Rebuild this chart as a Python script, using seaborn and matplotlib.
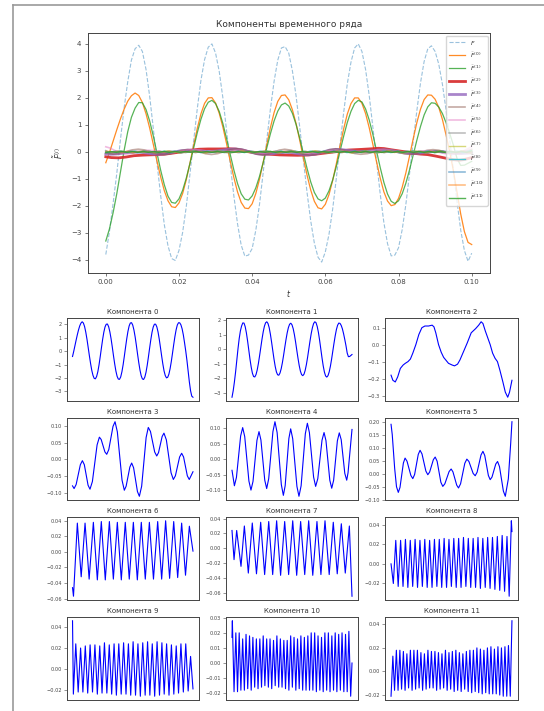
import numpy as np
import pandas as pd
import matplotlib
matplotlib.use('Agg')
import matplotlib.pyplot as plt
import seaborn as sns
from matplotlib.lines import Line2D
from matplotlib.ticker import MaxNLocator

# ---------------------------------------------------------------
# data
# ---------------------------------------------------------------
# sampling grid of the series, step 0.001 s
t_grid = np.linspace(0, 0.1, 101)

F_vals = [-3.80, -2.95, -1.90, -0.80, 0.45, 1.62, 2.60, 3.40, 3.82, 3.95,
          3.72, 3.05, 2.05, 0.85, -0.42, -1.62, -2.70, -3.48, -3.95, -4.02,
          -3.65, -2.98, -2.02, -0.82, 0.40, 1.60, 2.65, 3.42, 3.88, 4.00,
          3.66, 2.98, 2.00, 0.80, -0.45, -1.63, -2.66, -3.45, -3.86, -3.82,
          -3.58, -2.90, -1.95, -0.78, 0.44, 1.60, 2.62, 3.40, 3.85, 3.90,
          3.66, 3.00, 2.08, 0.92, -0.30, -1.50, -2.55, -3.38, -3.90, -4.08,
          -3.70, -3.05, -2.12, -0.98, 0.25, 1.45, 2.52, 3.32, 3.85, 4.00,
          3.72, 3.05, 2.08, 0.90, -0.35, -1.56, -2.62, -3.40, -3.85, -3.82,
          -3.55, -2.88, -1.95, -0.82, 0.38, 1.52, 2.55, 3.35, 3.82, 3.93,
          3.72, 3.25, 2.50, 1.55, 0.45, -0.70, -1.85, -2.90, -3.65, -4.05,
          -3.75]

c0_vals = [-0.40, -0.02, 0.40, 0.82, 1.22, 1.58, 1.88, 2.08, 2.18, 2.09,
           1.83, 1.41, 0.88, 0.27, -0.35, -0.93, -1.44, -1.81, -2.03, -2.06,
           -1.89, -1.54, -1.03, -0.41, 0.24, 0.87, 1.41, 1.80, 2.00, 2.01,
           1.81, 1.43, 0.92, 0.31, -0.34, -0.95, -1.48, -1.87, -2.08, -2.10,
           -1.92, -1.54, -1.02, -0.39, 0.27, 0.91, 1.46, 1.87, 2.09, 2.11,
           1.93, 1.56, 1.05, 0.43, -0.23, -0.86, -1.41, -1.83, -2.07, -2.11,
           -1.94, -1.58, -1.06, -0.44, 0.22, 0.85, 1.40, 1.79, 2.00, 2.00,
           1.80, 1.42, 0.89, 0.27, -0.37, -0.97, -1.48, -1.82, -1.99, -1.95,
           -1.72, -1.31, -0.78, -0.16, 0.48, 1.08, 1.58, 1.94, 2.11, 2.10,
           1.95, 1.65, 1.20, 0.62, 0.00, -0.70, -1.50, -2.30, -2.95, -3.35,
           -3.43]

c1_vals = [-3.30, -2.85, -2.25, -1.55, -0.75, 0.05, 0.75, 1.28, 1.62, 1.83,
           1.82, 1.57, 1.14, 0.58, -0.05, -0.68, -1.22, -1.64, -1.87, -1.90,
           -1.74, -1.42, -0.97, -0.43, 0.14, 0.71, 1.21, 1.60, 1.84, 1.91,
           1.79, 1.50, 1.05, 0.50, -0.09, -0.67, -1.17, -1.55, -1.75, -1.78,
           -1.63, -1.33, -0.91, -0.40, 0.15, 0.68, 1.15, 1.51, 1.74, 1.81,
           1.70, 1.43, 1.02, 0.51, -0.06, -0.61, -1.11, -1.50, -1.74, -1.81,
           -1.71, -1.44, -1.04, -0.54, 0.02, 0.58, 1.09, 1.50, 1.79, 1.91,
           1.85, 1.59, 1.18, 0.64, 0.03, -0.58, -1.13, -1.56, -1.83, -1.91,
           -1.81, -1.55, -1.16, -0.67, -0.12, 0.43, 0.94, 1.37, 1.67, 1.82,
           1.80, 1.66, 1.42, 1.08, 0.68, 0.25, -0.25, -0.50, -0.49, -0.42,
           -0.35]

t_c2 = [0.0, 0.0015, 0.0035, 0.0055, 0.0077, 0.010, 0.0118, 0.014, 0.016, 0.018,
        0.0205, 0.023, 0.0255, 0.028, 0.031, 0.034, 0.0355, 0.037, 0.0393, 0.0415,
        0.0435, 0.0475, 0.0505, 0.0525, 0.055, 0.057, 0.060, 0.063, 0.0663, 0.070,
        0.0725, 0.0745, 0.076, 0.078, 0.080, 0.082, 0.084, 0.086, 0.088, 0.090,
        0.0925, 0.0945, 0.0965, 0.098, 0.1]
v_c2 = [-0.18, -0.21, -0.22, -0.19, -0.14, -0.12, -0.11, -0.10, -0.085, -0.05,
        0.0, 0.06, 0.10, 0.11, 0.11, 0.115, 0.105, 0.07, 0.0, -0.045,
        -0.075, -0.11, -0.12, -0.125, -0.115, -0.09, -0.04, 0.01, 0.07, 0.095,
        0.115, 0.135, 0.125, 0.08, 0.04, 0.0, -0.05, -0.08, -0.10, -0.15,
        -0.22, -0.28, -0.31, -0.28, -0.21]

t_c3 = [0.0, 0.0013, 0.0030, 0.0065, 0.0082, 0.0098, 0.0129, 0.0145, 0.0165, 0.0204,
        0.0223, 0.0238, 0.0269, 0.0284, 0.0301, 0.0336, 0.0353, 0.0372, 0.0411, 0.0430,
        0.0445, 0.0476, 0.0491, 0.0507, 0.0539, 0.0555, 0.0574, 0.0611, 0.0629, 0.0647,
        0.0682, 0.0699, 0.0714, 0.0744, 0.0759, 0.0779, 0.0818, 0.0837, 0.0854, 0.0889,
        0.0906, 0.0922, 0.0953, 0.0969, 0.1]
v_c3 = [-0.079, -0.087, -0.075, -0.016, -0.004, -0.016, -0.077, -0.089, -0.066, 0.043,
        0.066, 0.059, 0.022, 0.015, 0.029, 0.098, 0.112, 0.082, -0.062, -0.092,
        -0.080, -0.023, -0.011, -0.025, -0.096, -0.110, -0.080, 0.065, 0.095, 0.083,
        0.022, 0.010, 0.020, 0.068, 0.078, 0.058, -0.040, -0.060, -0.049, 0.007,
        0.018, 0.007, -0.049, -0.060, -0.037]

t_c4 = [0.0, 0.002, 0.0037, 0.0072, 0.0089, 0.0106, 0.0141, 0.0158, 0.0175, 0.0208,
        0.0225, 0.0241, 0.0273, 0.0289, 0.0306, 0.0341, 0.0358, 0.0376, 0.0411, 0.0428,
        0.0443, 0.0474, 0.0489, 0.0506, 0.0541, 0.0558, 0.0576, 0.0611, 0.0628, 0.0645,
        0.0680, 0.0697, 0.0715, 0.0750, 0.0767, 0.0783, 0.0815, 0.0831, 0.0847, 0.0878,
        0.0894, 0.0910, 0.0940, 0.0956, 0.0967, 0.1]
v_c4 = [-0.036, -0.086, -0.059, 0.075, 0.102, 0.073, -0.071, -0.100, -0.072, 0.061,
        0.089, 0.062, -0.068, -0.095, -0.063, 0.089, 0.121, 0.086, -0.082, -0.117,
        -0.086, 0.067, 0.098, 0.066, -0.088, -0.120, -0.086, 0.082, 0.116, 0.086,
        -0.058, -0.088, -0.063, 0.061, 0.086, 0.060, -0.068, -0.094, -0.068, 0.059,
        0.085, 0.063, -0.046, -0.068, -0.044, 0.096]

t_c5 = [0.0, 0.001, 0.003, 0.0045, 0.006, 0.0074, 0.0102, 0.0116, 0.0132, 0.0164,
        0.018, 0.0195, 0.0225, 0.024, 0.0256, 0.0288, 0.0304, 0.0319, 0.0350, 0.0365,
        0.0381, 0.0412, 0.0428, 0.0445, 0.0480, 0.0497, 0.0512, 0.0543, 0.0558, 0.0575,
        0.0610, 0.0627, 0.0644, 0.0679, 0.0696, 0.0712, 0.0744, 0.076, 0.0775, 0.0805,
        0.082, 0.0835, 0.0866, 0.0881, 0.0897, 0.0929, 0.0945, 0.097, 0.099, 0.1]
v_c5 = [0.190, 0.150, 0.020, -0.050, -0.072, -0.053, 0.041, 0.060, 0.048, -0.007,
        -0.019, -0.003, 0.074, 0.090, 0.076, 0.010, -0.004, 0.006, 0.054, 0.064,
        0.048, -0.033, -0.049, -0.039, 0.008, 0.018, 0.007, -0.044, -0.055, -0.039,
        0.040, 0.056, 0.047, 0.001, -0.008, 0.006, 0.072, 0.086, 0.070, -0.007,
        -0.023, -0.013, 0.037, 0.047, 0.027, -0.067, -0.087, -0.020, 0.120, 0.200]

t_c6 = [0.0, 0.0008, 0.0040, 0.0072, 0.0104, 0.0138, 0.0173, 0.0206, 0.0239, 0.0272,
        0.0306, 0.0339, 0.0372, 0.0405, 0.0438, 0.0471, 0.0505, 0.0538, 0.0571, 0.0604,
        0.0638, 0.0672, 0.0707, 0.0740, 0.0773, 0.0806, 0.0840, 0.0873, 0.0906, 0.0938,
        0.0970, 0.1]
v_c6 = [-0.046, -0.057, 0.037, -0.032, 0.037, -0.035, 0.038, -0.036, 0.039, -0.036,
        0.039, -0.035, 0.038, -0.036, 0.038, -0.035, 0.038, -0.036, 0.038, -0.035,
        0.038, -0.035, 0.039, -0.035, 0.040, -0.034, 0.039, -0.033, 0.037, -0.030,
        0.033, 0.001]

t_c7 = [0.0, 0.0017, 0.0039, 0.0075, 0.0103, 0.0136, 0.0169, 0.0204, 0.0239, 0.0272,
        0.0306, 0.0339, 0.0372, 0.0405, 0.0439, 0.0472, 0.0506, 0.0539, 0.0572, 0.0606,
        0.0639, 0.0673, 0.0708, 0.0741, 0.0775, 0.0810, 0.0844, 0.0877, 0.0911, 0.0944,
        0.0978, 0.1]
v_c7 = [0.024, -0.015, 0.024, -0.024, 0.030, -0.033, 0.034, -0.034, 0.035, -0.035,
        0.036, -0.035, 0.037, -0.036, 0.036, -0.035, 0.037, -0.036, 0.036, -0.035,
        0.037, -0.036, 0.036, -0.035, 0.037, -0.035, 0.035, -0.034, 0.033, -0.033,
        0.030, -0.064]

t_c8 = [0.0, 0.0019, 0.0039, 0.0059, 0.0079, 0.0099, 0.0119, 0.0139, 0.0159, 0.0179,
        0.0199, 0.0219, 0.0239, 0.0259, 0.0279, 0.0299, 0.0319, 0.0339, 0.0359, 0.0379,
        0.0399, 0.0419, 0.0439, 0.0459, 0.0479, 0.0499, 0.0519, 0.0539, 0.0559, 0.0579,
        0.0599, 0.0619, 0.0639, 0.0659, 0.0679, 0.0699, 0.0719, 0.0739, 0.0759, 0.0779,
        0.0799, 0.0819, 0.0839, 0.0859, 0.0879, 0.0899, 0.0919, 0.0939, 0.0959, 0.0977,
        0.0995, 0.1]
v_c8 = [0.0, -0.020, 0.024, -0.023, 0.024, -0.023, 0.025, -0.024, 0.024, -0.023,
        0.025, -0.024, 0.024, -0.023, 0.025, -0.024, 0.024, -0.024, 0.025, -0.023,
        0.025, -0.024, 0.026, -0.024, 0.025, -0.023, 0.026, -0.024, 0.026, -0.024,
        0.027, -0.023, 0.026, -0.024, 0.026, -0.024, 0.027, -0.025, 0.026, -0.024,
        0.027, -0.025, 0.027, -0.026, 0.028, -0.027, 0.029, -0.028, 0.028, -0.033,
        0.044, 0.033]

t_c9 = [0.0, 0.0007, 0.0027, 0.0047, 0.0067, 0.0086, 0.0106, 0.0126, 0.0146, 0.0166,
        0.0186, 0.0206, 0.0226, 0.0245, 0.0265, 0.0285, 0.0305, 0.0325, 0.0345, 0.0364,
        0.0384, 0.0404, 0.0424, 0.0444, 0.0464, 0.0483, 0.0503, 0.0523, 0.0543, 0.0563,
        0.0583, 0.0603, 0.0623, 0.0642, 0.0662, 0.0682, 0.0702, 0.0722, 0.0742, 0.0761,
        0.0781, 0.0801, 0.0821, 0.0841, 0.0861, 0.0880, 0.0900, 0.0920, 0.0940, 0.0960,
        0.0980, 0.1]
v_c9 = [0.046, -0.024, 0.024, -0.022, 0.020, -0.022, 0.022, -0.023, 0.023, -0.022,
        0.023, -0.024, 0.022, -0.023, 0.025, -0.023, 0.023, -0.024, 0.024, -0.025,
        0.024, -0.024, 0.025, -0.024, 0.024, -0.025, 0.026, -0.025, 0.024, -0.026,
        0.025, -0.025, 0.026, -0.025, 0.024, -0.026, 0.026, -0.025, 0.025, -0.024,
        0.024, -0.025, 0.023, -0.024, 0.022, -0.023, 0.024, -0.022, 0.024, -0.021,
        0.012, -0.019]

t_c10 = [0.0, 0.0003, 0.0017, 0.0032, 0.0046, 0.0060, 0.0074, 0.0089, 0.0103, 0.0117,
         0.0131, 0.0146, 0.0160, 0.0174, 0.0189, 0.0203, 0.0217, 0.0232, 0.0246, 0.0260,
         0.0274, 0.0289, 0.0303, 0.0317, 0.0331, 0.0346, 0.0360, 0.0374, 0.0389, 0.0403,
         0.0417, 0.0432, 0.0446, 0.0460, 0.0474, 0.0489, 0.0503, 0.0517, 0.0532, 0.0546,
         0.0560, 0.0574, 0.0589, 0.0603, 0.0617, 0.0632, 0.0646, 0.0660, 0.0674, 0.0689,
         0.0703, 0.0717, 0.0732, 0.0746, 0.0760, 0.0774, 0.0789, 0.0803, 0.0817, 0.0832,
         0.0846, 0.0860, 0.0874, 0.0889, 0.0903, 0.0917, 0.0932, 0.0946, 0.0960, 0.0974,
         0.0989, 0.1]
v_c10 = [0.017, 0.028, -0.019, 0.020, -0.019, 0.020, -0.018, 0.016, -0.018, 0.019,
         -0.017, 0.018, -0.018, 0.017, -0.016, 0.016, -0.017, 0.016, -0.016, 0.018,
         -0.015, 0.016, -0.016, 0.016, -0.017, 0.015, -0.015, 0.018, -0.016, 0.016,
         -0.016, 0.015, -0.017, 0.015, -0.018, 0.018, -0.016, 0.017, -0.018, 0.016,
         -0.017, 0.018, -0.018, 0.017, -0.018, 0.018, -0.018, 0.020, -0.018, 0.020,
         -0.019, 0.018, -0.018, 0.017, -0.019, 0.020, -0.018, 0.020, -0.019, 0.018,
         -0.018, 0.020, -0.019, 0.019, -0.018, 0.020, -0.019, 0.019, -0.019, 0.021,
         -0.022, 0.0]

t_c11 = [0.0, 0.0015, 0.0029, 0.0044, 0.0058, 0.0073, 0.0087, 0.0102, 0.0116, 0.0131,
         0.0145, 0.0160, 0.0174, 0.0189, 0.0203, 0.0218, 0.0232, 0.0247, 0.0261, 0.0276,
         0.0290, 0.0305, 0.0319, 0.0334, 0.0348, 0.0363, 0.0377, 0.0392, 0.0406, 0.0421,
         0.0435, 0.0450, 0.0464, 0.0479, 0.0493, 0.0507, 0.0522, 0.0536, 0.0551, 0.0565,
         0.0580, 0.0594, 0.0609, 0.0623, 0.0638, 0.0652, 0.0667, 0.0681, 0.0696, 0.0710,
         0.0725, 0.0739, 0.0754, 0.0768, 0.0783, 0.0797, 0.0812, 0.0826, 0.0841, 0.0855,
         0.0870, 0.0884, 0.0899, 0.0913, 0.0928, 0.0942, 0.0957, 0.0971, 0.0986, 0.1]
v_c11 = [-0.021, 0.013, -0.016, 0.018, -0.016, 0.018, -0.015, 0.017, -0.016, 0.015,
         -0.014, 0.018, -0.016, 0.018, -0.015, 0.018, -0.014, 0.016, -0.016, 0.015,
         -0.015, 0.018, -0.014, 0.017, -0.014, 0.017, -0.016, 0.016, -0.015, 0.015,
         -0.014, 0.018, -0.016, 0.016, -0.015, 0.017, -0.017, 0.018, -0.016, 0.016,
         -0.017, 0.015, -0.015, 0.017, -0.017, 0.018, -0.018, 0.018, -0.017, 0.020,
         -0.018, 0.019, -0.019, 0.018, -0.018, 0.020, -0.019, 0.021, -0.019, 0.019,
         -0.019, 0.021, -0.020, 0.020, -0.021, 0.021, -0.021, 0.022, -0.021, 0.043]

components = [(t_grid, c0_vals), (t_grid, c1_vals), (t_c2, v_c2), (t_c3, v_c3),
              (t_c4, v_c4), (t_c5, v_c5), (t_c6, v_c6), (t_c7, v_c7),
              (t_c8, v_c8), (t_c9, v_c9), (t_c10, v_c10), (t_c11, v_c11)]

# style of each component on the overview plot (default colour cycle)
top_colors = ['C1', 'C2', 'C3', 'C4', 'C5', 'C6', 'C7', 'C8', 'C9', 'C0', 'C1', 'C2']
top_widths = [0.9, 0.9, 2.0, 2.0, 1.2, 1.2, 1.2, 1.0, 1.0, 1.2, 1.2, 1.0]
top_alphas = [0.9, 0.8, 0.9, 0.8, 0.5, 0.5, 0.5, 0.6, 0.8, 0.5, 0.5, 0.8]

W, H = 544, 711
plt.rcParams['font.family'] = ['DejaVu Sans']
plt.rcParams['axes.edgecolor'] = '#444444'
plt.rcParams['axes.linewidth'] = 0.7
plt.rcParams['xtick.color'] = '#444444'
plt.rcParams['ytick.color'] = '#444444'
plt.rcParams['text.color'] = '#333333'
plt.rcParams['axes.labelcolor'] = '#333333'

fig = plt.figure(figsize=(W / 100, H / 100), dpi=100)


def box(left, top, right, bottom):
    # pixel box -> figure fraction
    return [left / W, 1 - bottom / H, (right - left) / W, (bottom - top) / H]


# =========================================================================
# overview plot
# =========================================================================
ax = fig.add_axes(box(87.5, 33, 490, 273))
df_f = pd.DataFrame({'t': t_grid, 'v': F_vals})
sns.lineplot(data=df_f, x='t', y='v', ax=ax, color='C0', linestyle='--',
             linewidth=0.8, alpha=0.45, label='$F$', estimator=None)
for i, (tt, vv) in enumerate(components):
    df_c = pd.DataFrame({'t': tt, 'v': vv})
    sns.lineplot(data=df_c, x='t', y='v', ax=ax, color=top_colors[i],
                 linewidth=top_widths[i], alpha=top_alphas[i],
                 label=r'$\tilde{F}^{(%d)}$' % i, estimator=None)
ax.set_title('Компоненты временного ряда', fontsize=6.5, pad=4)
ax.set_xlabel('$t$', fontsize=5.5, labelpad=2)
ax.set_ylabel(r'$\tilde{F}^{(i)}$', fontsize=5.5, labelpad=4)
ax.tick_params(labelsize=5, length=2.5, width=0.5, pad=2)
ax.legend(loc='upper right', fontsize=4.5, handlelength=2.6, labelspacing=0.62,
          borderpad=0.5, borderaxespad=0.4, framealpha=0.8, edgecolor='#cccccc')

# =========================================================================
# grid of single components
# =========================================================================
row_tops = [318, 418, 517, 617]
row_bottoms = [401, 500, 600, 700]
col_lefts = [66.5, 226, 385]
col_rights = [199, 358, 518]

for i, (tt, vv) in enumerate(components):
    r, c = divmod(i, 3)
    axi = fig.add_axes(box(col_lefts[c], row_tops[r], col_rights[c], row_bottoms[r]))
    df_c = pd.DataFrame({'t': tt, 'v': vv})
    sns.lineplot(data=df_c, x='t', y='v', ax=axi, color='blue', linewidth=0.8,
                 estimator=None)
    axi.set_title(f'Компонента {i}', fontsize=5, pad=3)
    axi.set_xlabel('')
    axi.set_ylabel('')
    axi.set_xticks([])
    axi.yaxis.set_major_locator(MaxNLocator(nbins=7, steps=[1, 2, 2.5, 5, 10]))
    axi.tick_params(labelsize=3.6, length=2, width=0.4, pad=1.5)

# frame of the output cell
fig.add_artist(Line2D([13 / W, 13 / W], [0, 1 - 5 / H], transform=fig.transFigure,
                      color='#999999', linewidth=1.2))
fig.add_artist(Line2D([13 / W, 1], [1 - 5 / H, 1 - 5 / H], transform=fig.transFigure,
                      color='#999999', linewidth=1.2))

fig.savefig('out.png', dpi=100)
plt.close()
